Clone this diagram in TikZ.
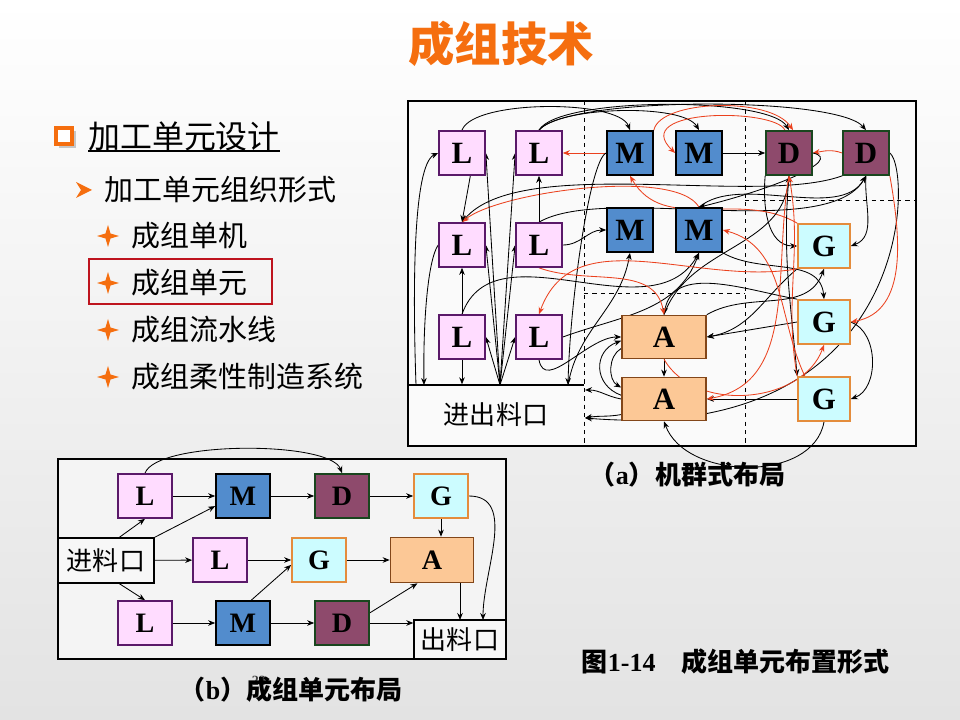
\documentclass[tikz,border=0pt]{standalone}
\usepackage{fontspec}
\setmainfont{Liberation Serif}
\newfontfamily\cjk{Noto Sans CJK SC}
\usetikzlibrary{arrows.meta}

% colours of the machine groups
\definecolor{lfill}{RGB}{255,220,255}
\definecolor{ldraw}{RGB}{90,25,105}
\definecolor{mfill}{RGB}{82,140,205}
\definecolor{dfill}{RGB}{142,74,108}
\definecolor{ddraw}{RGB}{25,70,30}
\definecolor{gfill}{RGB}{204,252,255}
\definecolor{gdraw}{RGB}{228,140,60}
\definecolor{afill}{RGB}{252,200,150}
\definecolor{adraw}{RGB}{130,70,25}
\definecolor{titleor}{RGB}{245,110,15}
\definecolor{redln}{RGB}{235,65,30}
\definecolor{boxred}{RGB}{190,20,30}

\pgfdeclarelayer{back}
\pgfdeclarelayer{mid}
\pgfsetlayers{back,mid,main}

\tikzset{
  mach/.style={draw, line width=1.2pt, inner sep=0pt, minimum width=1.15cm,
    minimum height=1.1cm, font=\fontsize{22}{22}\selectfont\bfseries},
  lbox/.style={mach, fill=lfill, draw=ldraw},
  mbox/.style={mach, fill=mfill, draw=black},
  dbox/.style={mach, fill=dfill, draw=ddraw},
  gbox/.style={mach, fill=gfill, draw=gdraw, minimum width=1.3cm},
  abox/.style={mach, fill=afill, draw=adraw, minimum width=2.1cm, minimum height=1.075cm},
  bsz/.style={minimum width=1.35cm, minimum height=1.1cm, font=\fontsize{20}{20}\selectfont\bfseries},
  zh/.style={inner sep=0pt, font=\cjk\fontsize{#1}{#1}\selectfont},
  zhb/.style={inner sep=0pt, font=\cjk\bfseries\fontsize{#1}{#1}\selectfont},
  flow/.style={-{Stealth[length=5pt,width=4pt]}, line width=0.6pt},
  rflow/.style={flow, draw=redln},
  portbox/.style={draw, line width=1pt, fill=gray!6, inner sep=0pt}
}

\begin{document}
\begin{tikzpicture}[x=0.025cm,y=0.025cm]

% --- page background and frames ---
\begin{pgfonlayer}{back}
  \shade[top color=white, bottom color=gray!22] (0,0) rectangle (960,-720);
  \draw[line width=1.6pt, fill=gray!4] (408,-101) rectangle (916,-446);
  \draw[line width=1.6pt, fill=gray!9] (58,-459) rectangle (506,-659);
  \draw[dashed, line width=0.6pt] (584,-101) -- (584,-446);
  \draw[dashed, line width=0.6pt] (745,-101) -- (745,-446);
  \draw[dashed, line width=0.6pt] (745,-200) -- (916,-200);
  \draw[dashed, line width=0.6pt] (584,-293) -- (745,-293);
  \draw[line width=0.8pt] (408,-385) -- (584,-385);
\end{pgfonlayer}

% --- title ---
\node[zhb=33, text=titleor] (title) at (501,-44) {成组技术};

% --- left list ---
\fill[gray!45] (59,-131) rectangle (76,-148);
\draw[titleor, line width=2.4pt, fill=white] (56,-128) rectangle (72,-144);
\node[zh=22.7, anchor=west] (sec) at (88,-136) {加工单元设计};
\draw[line width=0.9pt] (88,-151) -- (280,-151);

\fill[titleor] (76,-182) -- (92,-190) -- (76,-198) -- (81,-190) -- cycle;
\node[zh=20.6, anchor=west] (sub) at (104,-190) {加工单元组织形式};

\foreach \yy/\txt [count=\k] in {236/成组单机, 283/成组单元, 330/成组流水线, 377/成组柔性制造系统} {
  \fill[titleor] (108,-\yy) ++(0,11) -- ++(2.5,-8.5) -- ++(8.5,-2.5) -- ++(-8.5,-2.5)
    -- ++(-2.5,-8.5) -- ++(-2.5,8.5) -- ++(-8.5,2.5) -- ++(8.5,2.5) -- cycle;
  \node[zh=20.6, anchor=west] (item\k) at (131,-\yy) {\txt};
}
\draw[boxred, line width=2pt] (89,-259) rectangle (272,-304);

% --- (a) machine groups ---
\node[lbox] (L11) at (462,-153) {L};
\node[lbox] (L12) at (539,-153) {L};
\node[mbox] (M11) at (630,-153) {M};
\node[mbox] (M12) at (699,-153) {M};
\node[dbox] (D11) at (789,-153) {D};
\node[dbox] (D12) at (866,-153) {D};

\node[lbox] (L21) at (462,-245) {L};
\node[lbox] (L22) at (539,-245) {L};
\node[mbox] (M21) at (630,-230) {M};
\node[mbox] (M22) at (699,-230) {M};
\node[gbox] (G21) at (824,-246) {G};

\node[lbox] (L31) at (462,-337) {L};
\node[lbox] (L32) at (539,-337) {L};
\node[abox] (A31) at (664,-337) {A};
\node[gbox] (G31) at (824,-322) {G};

\node[abox] (A41) at (664,-399) {A};
\node[gbox] (G41) at (824,-399) {G};

\node[zh=18.5, minimum width=4.4cm, minimum height=1.52cm] (ioa) at (496,-415) {进出料口};
\coordinate (iot0) at (416,-385);
\coordinate (iot1) at (424,-385);
\coordinate (iot2) at (500,-385);
\coordinate (iot3) at (568,-385);
\coordinate (ioe1) at (585,-390);
\coordinate (ioe2) at (585,-418);

% --- (a) material flow ---
\begin{pgfonlayer}{mid}
\draw[flow] (L11.north) to[out=70,in=110,looseness=0.5] (M11.north);
\draw[flow] (L12.north) to[out=60,in=120,looseness=0.4] (D11.north);
\draw[flow] (L12.north) to[out=50,in=130,looseness=0.35] (D12.north);
\draw[flow] (L12.north) to[out=50,in=120,looseness=0.5] (M12.north);
\draw[flow] (M12.east) -- (D11.west);
\draw[rflow] (M11.west) -- (L12.east);
\draw[rflow] (D11.100) .. controls (775,-108) and (628,-108) .. (M12.west);
\draw[rflow] (M11.north east) .. controls (660,-100) and (770,-96) .. (D11.80);
\draw[rflow] (D12.west) to[out=160,in=10] (D11.east);
\draw[flow] (D11.east) .. controls (845,-160) and (770,-190) .. (M22.north);
\draw[flow] (D11.south west) to[out=-95,in=180] (G21.west);
\draw[flow] (D12.south) to[out=-95,in=20] (G21.east);
\draw[flow] (D12.east) .. controls (912,-170) and (915,-445) .. (ioe2);
\draw[flow] (L22.north) to[out=30,in=-120,looseness=0.6] (D12.south);
\draw[flow] (M22.north) to[out=40,in=-120,looseness=0.8] (D12.south);
\draw[flow] (D12.south west) to[out=-160,in=50,looseness=0.6] (L21.north);
\draw[rflow] (M22.north) to[out=120,in=40,looseness=0.5] (L21.north);
\draw[rflow] (G21.north west) to[out=150,in=-60] (M11.south);
\draw[flow] (L22.north) -- (L12.south);
\draw[flow] (L22.east) to[out=0,in=180] (M21.west);
\draw[flow] (L11.-70) to[out=-100,in=80] (L21.north);
\draw[flow] (L31.north) -- (L21.south);
\draw[flow] (L31.south) -- (L31.south |- ioa.north);
\draw[flow] (iot0) .. controls (413,-300) and (412,-165) .. (L11.west);
\draw[flow] (L21.west) .. controls (428,-260) and (423,-320) .. (iot1);
\foreach \t in {L11.east, L12.west, L21.east, L22.west, L31.east, L32.west}
  \draw[flow] (iot2) -- (\t);
\draw[flow] (M11.west) .. controls (590,-160) and (570,-300) .. (iot3);
\draw[flow] (iot3) to[out=80,in=-100] (M21.south);
\draw[flow] (L31.north) to[out=70,in=-120] (M22.south);
\draw[flow] (L32.east) to[out=20,in=-110] (M22.south);
\draw[flow] (L32.south) to[out=-80,in=180] (A31.west);
\draw[flow] (A31.195) to[out=210,in=150] (A41.165);
\draw[flow] (A41.175) to[out=160,in=200,looseness=1.4] (A31.185);
\draw[flow] (A31.south) -- (A41.north);
\draw[flow] (A41.west) to[out=170,in=0] (ioe1);
\draw[flow] (A41.200) to[out=190,in=10] (ioe2);
\draw[flow] (G41.south) to[out=-100,in=-70] (A41.south);
\draw[flow] (G41.west) -- (A41.east);
\draw[flow] (G31.west) -- (A31.east);
\draw[flow] (G21.south west) to[out=-140,in=10] (A31.east);
\draw[flow] (G31.north west) to[out=170,in=80] (A31.north);
\draw[flow] (G31.east) to[out=-20,in=20] (G41.east);
\draw[rflow] (D12.south east) to[out=-80,in=10] (G31.east);
\draw[flow] (M22.south east) to[out=-30,in=95] (G31.north);
\draw[flow] (A31.north east) to[out=30,in=-110] (G21.south);
\draw[flow] (D11.south) to[out=-95,in=95] (G41.north west);
\draw[flow] (A31.north) to[out=70,in=-95] (D11.south);
\draw[rflow] (D11.south) to[out=-100,in=10] (A41.east);
\draw[rflow] (G41.north west) to[out=100,in=-80] (D11.south);
\draw[rflow] (L22.south) to[out=-20,in=100] (A31.north);
\draw[rflow] (G21.south west) to[out=190,in=70] (L32.north);
\draw[rflow] (A31.south) to[out=-60,in=-110] (G31.south);
\draw[rflow] (G41.130) to[out=115,in=-15] (M22.east);
\end{pgfonlayer}

\node[anchor=west] (capa) at (585,-475)
  {{\cjk\bfseries\fontsize{18.5}{18.5}\selectfont （}{\bfseries\fontsize{18.5}{18.5}\selectfont a}{\cjk\bfseries\fontsize{18.5}{18.5}\selectfont ）机群式布局}};

% --- (b) group cell ---
\node[lbox, bsz] (bL1) at (145,-496) {L};
\node[mbox, bsz] (bM1) at (243,-496) {M};
\node[dbox, bsz] (bD1) at (342,-496) {D};
\node[gbox, bsz] (bG1) at (441,-496) {G};

\node[portbox, zh=18.5, minimum width=2.4cm, minimum height=1.125cm] (bin) at (106,-560.5) {进料口};
\node[lbox, bsz] (bL2) at (220,-560) {L};
\node[gbox, bsz] (bG2) at (319,-560) {G};
\node[abox, bsz, minimum width=2.075cm, minimum height=1.125cm] (bA) at (432,-560) {A};

\node[lbox, bsz] (bL3) at (145,-623) {L};
\node[mbox, bsz] (bM3) at (243,-623) {M};
\node[dbox, bsz] (bD3) at (342,-623) {D};
\node[portbox, zh=18.5, minimum width=2.3cm, minimum height=0.975cm] (bout) at (460,-639.5) {出料口};
\coordinate (boutl) at (460,-620);
\coordinate (boutr) at (483,-620);

\begin{pgfonlayer}{mid}
\draw[flow] (bL1) -- (bM1);
\draw[flow] (bM1) -- (bD1);
\draw[flow] (bD1) -- (bG1);
\draw[flow] (bL1.north) to[out=70,in=110,looseness=0.45] (bD1.north);
\draw[flow] (bin.60) -- (bL1.south);
\draw[flow] (bin.north east) -- (bM1.200);
\draw[flow] (bin) -- (bL2);
\draw[flow] (bL2) -- (bG2);
\draw[flow] (bG2) -- (bA);
\draw[flow] (bG1.south) -- (bG1.south |- bA.north);
\draw[flow] (bG1.east) to[out=0,in=90] (boutr);
\draw[flow] (bin.-60) -- (bL3.north);
\draw[flow] (bL3) -- (bM3);
\draw[flow] (bM3) -- (bD3);
\draw[flow] (bM3.70) -- (bG2.190);
\draw[flow] (bD3.20) -- (bA.238);
\draw[flow] (bD3.east) -- (bD3.east -| bout.west);
\draw[flow] (boutl |- bA.south) -- (boutl);
\end{pgfonlayer}

% --- captions ---
\node[font=\bfseries\fontsize{10}{10}\selectfont, text=black!75] (pgno) at (259,-681) {23};
\node[anchor=west] (capb) at (175,-690)
  {{\cjk\bfseries\fontsize{18.5}{18.5}\selectfont （}{\bfseries\fontsize{18.5}{18.5}\selectfont b}{\cjk\bfseries\fontsize{18.5}{18.5}\selectfont ）成组单元布局}};
\node[anchor=west] (capfig) at (577,-662)
  {{\cjk\bfseries\fontsize{18.5}{18.5}\selectfont 图}{\bfseries\fontsize{18.5}{18.5}\selectfont 1-14\quad}{\cjk\bfseries\fontsize{18.5}{18.5}\selectfont 成组单元布置形式}};

\end{tikzpicture}
\end{document}
